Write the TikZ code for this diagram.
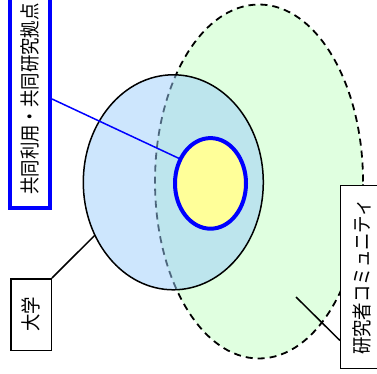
\documentclass[tikz,border=0pt]{standalone}
\usepackage{fontspec}
\usepackage{graphicx}
\newfontfamily\cjk{Noto Sans CJK JP}
\usetikzlibrary{shapes.geometric,calc}
\definecolor{grnfill}{RGB}{224,255,224}
\definecolor{unifill}{RGB}{155,205,251}
\definecolor{yelfill}{RGB}{255,255,153}
\newcommand{\sq}[1]{\scalebox{0.87}[1]{#1}}
\begin{document}
\begin{tikzpicture}[x=1pt,y=-1pt,
  lbl/.style={draw=black,line width=1.5pt,fill=white,rotate=90,inner sep=0pt,
    font=\cjk\fontsize{20}{20}\selectfont},
  conn/.style={line width=1.5pt,draw=black},
  ell/.style={ellipse,inner sep=0pt,outer sep=0pt}]
\useasboundingbox (0,0) rectangle (377,374);
\node[ell,draw=black,line width=1.8pt,dash pattern=on 7pt off 5pt,fill=grnfill,
  minimum width=208pt,minimum height=354pt] (comm) at (259,181.5) {};
\node[ell,draw=black,line width=1.5pt,fill=unifill,fill opacity=0.5,draw opacity=1,
  minimum width=180pt,minimum height=215pt] (uni) at (173.3,182.3) {};
\node[ell,draw=blue,line width=4pt,fill=yelfill,
  minimum width=71pt,minimum height=90.6pt] (yel) at (210.5,183.4) {};
\node[lbl,draw=blue,line width=4pt,minimum width=218pt,minimum height=39.7pt]
  (kyoten) at (30.2,99) {\sq{共同利用・共同研究拠点}};
\node[lbl,minimum width=71.5pt,minimum height=40.5pt] (daigaku) at (31,314.5) {\sq{大学}};
\node[lbl,minimum width=182.8pt,minimum height=42.6pt] (cbox) at (362,277.1) {\sq{研究者コミュニティ}};
\coordinate (cend) at (296,297);
\draw[line width=1.5pt,blue] (kyoten.south) -- (yel.141);
\draw[conn] (daigaku.south east) -- (uni.214);
\draw[conn] ($(cbox.north west)!0.156!(cbox.north east)$) -- (cend);
\end{tikzpicture}
\end{document}
